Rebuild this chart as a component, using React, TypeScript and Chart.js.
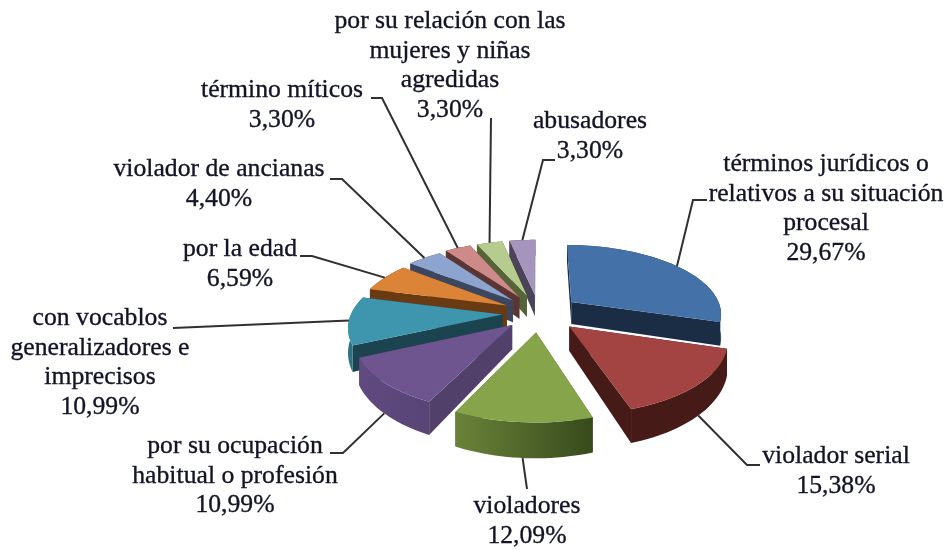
import React, { useEffect, useRef } from "react";
import { Chart, registerables } from "chart.js";

Chart.register(...registerables);

const categories: string[][] = [
  ["términos jurídicos o", "relativos a su situación", "procesal"],
  ["violador serial"],
  ["violadores"],
  ["por su ocupación", "habitual o profesión"],
  ["con vocablos", "generalizadores e", "imprecisos"],
  ["por la edad"],
  ["violador de ancianas"],
  ["término míticos"],
  ["por su relación con las", "mujeres y niñas", "agredidas"],
  ["abusadores"],
];
const values = [29.67, 15.38, 12.09, 10.99, 10.99, 6.59, 4.4, 3.3, 3.3, 3.3];

const topColors = ["#4472a8", "#a44442", "#86a44a", "#6f5590", "#3e96ae", "#db8437", "#8da4ce", "#ce8a88", "#b5cc8e", "#a595bc"];
const wallLeft = ["#1b2d45", "#461b17", "#6a8339", "#604a80", "#2f7283", "#6a3b12", "#3c475f", "#5b3533", "#556538", "#4b4358"];
const wallRight = ["#1b2d45", "#461b17", "#374a1c", "#4f3d68", "#1b4350", "#6a3b12", "#3c475f", "#5b3533", "#556538", "#4b4358"];
const radialColors = ["#1b2d45", "#461b17", "#374a1c", "#51406a", "#1b4350", "#6a3b12", "#3c475f", "#5b3533", "#556538", "#4b4358"];
const explode = [36, 36, 36, 32, 32, 32, 34, 36, 36, 36];

// Label layout: centre x, first baseline y, elbow start [x, y], elbow end [x, y]
const labelCentres = [826, 836, 527, 235, 100, 240, 219, 282, 450, 590];
const labelTops = [171, 463, 513, 453, 325, 256, 176, 97, 28, 128];
const elbows: number[][] = [
  [707, 200, 693, 200],
  [760, 465, 747, 465],
  [527, 489, 527, 489],
  [330, 453, 343, 453],
  [173, 328, 173, 328],
  [300, 256, 312, 256],
  [330, 179, 342, 179],
  [371, 98, 382, 98],
  [491, 118, 491, 118],
  [555, 160, 543, 160],
];

const VIEW = { a: 69, b: 151, p: 0.156, depth: 23 };
const FONT = '25.7px "Liberation Serif"';
const LINE_H = 29.7;

const pct = (v: number) => v.toFixed(2).replace(".", ",") + "%";

function sliceGeometry(el: any) {
  const { x: cx, y: cy, startAngle, endAngle, outerRadius: R } = el;
  const mid = (startAngle + endAngle) / 2;
  const off = el.options.offset || 0;
  const ox = (Math.cos(mid) * off) / R;
  const oy = (Math.sin(mid) * off) / R;
  const project = (u: number, v: number) => {
    const w = 1 - VIEW.p * v;
    return { x: cx + (VIEW.b * u) / w, y: cy + (VIEW.a * v) / w, d: VIEW.depth / (w * w), v };
  };
  const apex = project(ox, oy);
  const n = Math.max(6, Math.ceil((endAngle - startAngle) * 30));
  const rim: { x: number; y: number; d: number; v: number }[] = [];
  for (let i = 0; i <= n; i++) {
    const a = startAngle + ((endAngle - startAngle) * i) / n;
    rim.push(project(ox + Math.cos(a), oy + Math.sin(a)));
  }
  const anchor = project(ox + Math.cos(mid), oy + Math.sin(mid));
  return { apex, rim, anchor, mid };
}

function drawSlices(chart: any) {
  const ctx: CanvasRenderingContext2D = chart.ctx;
  const arcs: any[] = chart.getDatasetMeta(0).data;
  const order = arcs.map((_, i) => i).sort((i, j) => {
    const mi = (arcs[i].startAngle + arcs[i].endAngle) / 2;
    const mj = (arcs[j].startAngle + arcs[j].endAngle) / 2;
    return Math.sin(mi) - Math.sin(mj);
  });
  for (const i of order) {
    const { apex, rim } = sliceGeometry(arcs[i]);
    const xs = rim.map((p) => p.x).concat(apex.x);
    const grad = ctx.createLinearGradient(Math.min(...xs), 0, Math.max(...xs), 0);
    grad.addColorStop(0, wallLeft[i]);
    grad.addColorStop(1, wallRight[i]);

    // radial cut faces
    for (const end of [rim[0], rim[rim.length - 1]]) {
      ctx.beginPath();
      ctx.moveTo(apex.x, apex.y);
      ctx.lineTo(end.x, end.y);
      ctx.lineTo(end.x, end.y + end.d);
      ctx.lineTo(apex.x, apex.y + apex.d);
      ctx.closePath();
      ctx.fillStyle = radialColors[i];
      ctx.fill();
    }

    // outer wall
    ctx.beginPath();
    rim.forEach((p, k) => (k ? ctx.lineTo(p.x, p.y) : ctx.moveTo(p.x, p.y)));
    [...rim].reverse().forEach((p) => ctx.lineTo(p.x, p.y + p.d));
    ctx.closePath();
    ctx.fillStyle = grad;
    ctx.fill();

    // top face
    ctx.beginPath();
    ctx.moveTo(apex.x, apex.y);
    rim.forEach((p) => ctx.lineTo(p.x, p.y));
    ctx.closePath();
    ctx.fillStyle = topColors[i];
    ctx.fill();
  }
}

function drawLabels(chart: any) {
  const ctx: CanvasRenderingContext2D = chart.ctx;
  const arcs: any[] = chart.getDatasetMeta(0).data;
  ctx.save();
  arcs.forEach((el, i) => {
    const { anchor } = sliceGeometry(el);
    const f = Math.min(1, Math.max(0, (anchor.v - 0.2) / 0.4));
    const e = elbows[i];
    ctx.beginPath();
    ctx.moveTo(e[0], e[1]);
    ctx.lineTo(e[2], e[3]);
    ctx.lineTo(anchor.x, anchor.y + anchor.d * f);
    ctx.strokeStyle = "#303030";
    ctx.lineWidth = 2;
    ctx.stroke();

    ctx.font = FONT;
    ctx.fillStyle = "#141428";
    ctx.strokeStyle = "#141428";
    ctx.lineWidth = 0.35;
    ctx.textAlign = "center";
    ctx.textBaseline = "alphabetic";
    const lines = [...categories[i], pct(values[i])];
    lines.forEach((t, k) => {
      ctx.fillText(t, labelCentres[i], labelTops[i] + k * LINE_H);
      ctx.strokeText(t, labelCentres[i], labelTops[i] + k * LINE_H);
    });
  });
  ctx.restore();
}

const pie3d = {
  id: "pie3d",
  beforeDatasetsDraw(chart: any) {
    drawSlices(chart);
    return false;
  },
  afterDraw(chart: any) {
    drawLabels(chart);
  },
};

export default function App() {
  const ref = useRef<HTMLCanvasElement | null>(null);
  useEffect(() => {
    const chart = new Chart(ref.current as HTMLCanvasElement, {
      type: "pie",
      data: {
        labels: categories.map((c) => c.join(" ")),
        datasets: [{ data: values, backgroundColor: topColors, offset: explode, borderWidth: 0 }],
      },
      options: {
        animation: false,
        responsive: false,
        layout: { padding: { left: 389, right: 260, top: 163, bottom: 87 } },
        plugins: { legend: { display: false }, tooltip: { enabled: false } },
      },
      plugins: [pie3d],
    } as any);
    return () => chart.destroy();
  }, []);
  return (
    <div style={{ position: "absolute", left: 0, top: 0, width: 949, height: 550, background: "#fff" }}>
      <canvas ref={ref} width={949} height={550} style={{ display: "block", filter: "blur(0.5px)" }} />
    </div>
  );
}
